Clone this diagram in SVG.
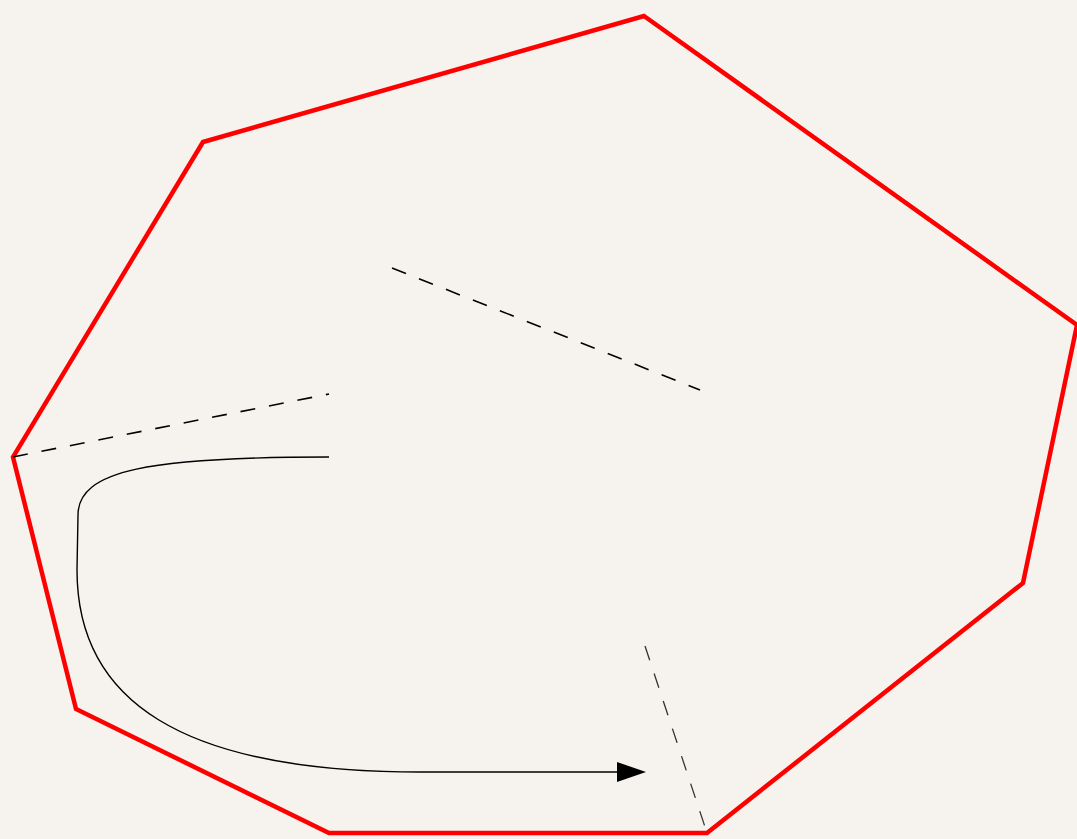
<svg xmlns="http://www.w3.org/2000/svg" width="1077" height="839" viewBox="0 0 1077 839">
<defs>
<style>
.poly{fill:none;stroke:#ff0000;stroke-width:4.5;stroke-linejoin:miter}
.dash{fill:none;stroke:#000;stroke-width:1.6;stroke-dasharray:15,14}
.curve{fill:none;stroke:#000;stroke-width:1.4}
</style>
<marker id="arr" markerWidth="30" markerHeight="22" refX="0" refY="10" orient="auto" markerUnits="userSpaceOnUse">
<path d="M0,0 L29,10 L0,20 Z" fill="#000"/>
</marker>
</defs>
<rect width="1077" height="839" fill="#f6f3ef"/>
<g id="region">
<polygon class="poly" points="644,16 1077,325 1023,583 707,833 329,833 76,709 13,457 203,142"/>
</g>
<g id="connectors">
<line class="dash" x1="392" y1="268" x2="700" y2="390"/>
<line class="dash" x1="13" y1="457" x2="329" y2="394"/>
<line class="dash" x1="645" y1="646" x2="707" y2="833" style="stroke:#333;stroke-width:1.3"/>
<path class="curve" d="M329,457 C150,457 78,470 78,515 L77,570 C77,700 180,772 420,772 L617,772" marker-end="url(#arr)"/>
</g>
</svg>
